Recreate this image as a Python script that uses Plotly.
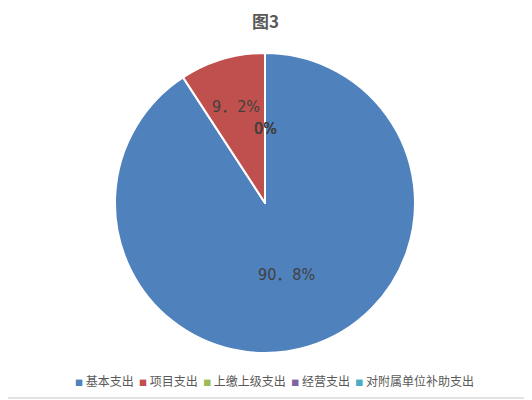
import math
import plotly.graph_objects as go

# 图3 支出构成
categories = ["基本支出", "项目支出", "上缴上级支出", "经营支出", "对附属单位补助支出"]
values = [90.8, 9.2, 0, 0, 0]
colors = ["#4F81BD", "#C0504D", "#9BBB59", "#8064A2", "#4BACC6"]

W, H = 532, 400
OFF = 8  # the page body adds an 8px margin, compensate for it
cjk = "Noto Sans CJK SC, Microsoft YaHei, sans-serif"
num_font = "Liberation Sans Narrow, DejaVu Sans Condensed, Liberation Sans, Noto Sans CJK SC, sans-serif"

# pie placement (pixels): centre and radius
cx, cy, R = 265 - OFF, 203 - OFF, 150
dom_x = [(cx - R) / W, (cx + R) / W]
dom_y = [1 - (cy + R) / H, 1 - (cy - R) / H]

fig = go.Figure()
fig.add_trace(
    go.Pie(
        labels=categories,
        values=values,
        textinfo="none",
        sort=False,
        direction="clockwise",
        rotation=0,
        marker=dict(colors=colors, line=dict(color="white", width=2)),
        domain=dict(x=dom_x, y=dom_y),
        showlegend=False,
        hoverinfo="label+percent",
    )
)

# data labels, Excel style (full-width point), at each slice's mid angle;
# narrow slices get their label pushed further out so it fits
total = sum(values)
annotations = []
cum = 0
for v in values:
    share = v / total
    mid = (cum + v / 2) / total * 2 * math.pi
    cum += v
    rr = (0.67 if 0 < share < 0.25 else 0.5) * R
    px = cx + rr * math.sin(mid)
    py = cy - rr * math.cos(mid)
    txt = ("%g%%" % v).replace(".", "．")
    annotations.append(
        dict(x=px / W, y=1 - py / H, xref="paper", yref="paper", text=txt,
             xanchor="center", yanchor="middle", showarrow=False,
             font=dict(family=num_font, size=16, color="#404040"))
    )

# legend row along the bottom
legend_text = "  ".join(
    '<span style="color:%s;font-size:8px">■</span> %s' % (c, n)
    for c, n in zip(colors, categories)
)
annotations.append(
    dict(x=0.5, y=1 - (380 - OFF) / H, xref="paper", yref="paper", text=legend_text,
         showarrow=False, xanchor="center", yanchor="middle",
         font=dict(family=cjk, size=12, color="#595959"))
)

# chart title
annotations.append(
    dict(x=(265 - OFF) / W, y=1 - (21 - OFF) / H, xref="paper", yref="paper",
         text="<b>图3</b>", showarrow=False, xanchor="center", yanchor="middle",
         font=dict(family=cjk, size=17, color="#595959"))
)

fig.update_layout(
    width=W,
    height=H,
    margin=dict(l=0, r=0, t=0, b=0),
    paper_bgcolor="white",
    annotations=annotations,
    shapes=[
        dict(type="line", xref="paper", yref="paper", x0=0, x1=1,
             y0=1 - (398 - OFF) / H, y1=1 - (398 - OFF) / H,
             line=dict(color="#D9D9D9", width=1.5))
    ],
)

fig.write_html("out.html")
